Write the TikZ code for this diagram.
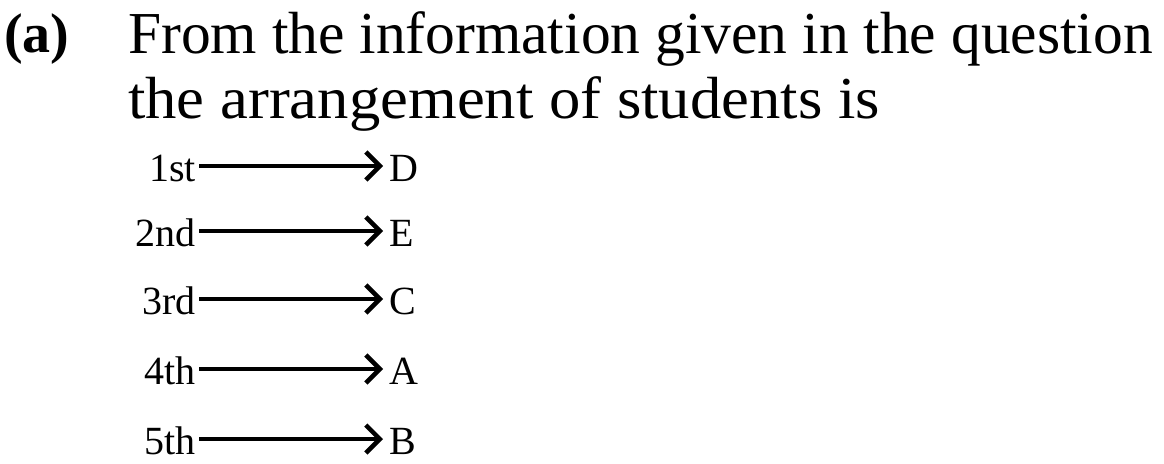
\documentclass[tikz,border=0pt]{standalone}
\usepackage{fontspec}
\setmainfont{Liberation Serif}
\usetikzlibrary{arrows.meta}
\begin{document}
\begin{tikzpicture}[x=1pt,y=-1pt,
  headtxt/.style={anchor=base west,inner sep=0pt,font=\fontsize{59.5}{60}\selectfont},
  lbl/.style={anchor=base east,inner sep=0pt,text height=30pt,text depth=0pt,font=\fontsize{40}{40}\selectfont},
  stu/.style={anchor=base west,inner sep=0pt,text height=30pt,text depth=0pt,font=\fontsize{40}{40}\selectfont},
  arr/.style={line width=4.5pt,-{Straight Barb[length=14pt,width=28pt]},shorten >=6pt,shorten <=3pt}]
\useasboundingbox (0,0) rectangle (1164,463);
\node[anchor=base west,inner sep=0pt,font=\fontsize{56}{56}\selectfont\bfseries] (a) at (4,52) {(a)};
\node[headtxt] (l1) at (128,53) {From the information given in the question};
\node[headtxt,xscale=1.053,transform shape] (l2) at (128,118) {the arrangement of students is};
\foreach \i/\o/\s/\y in {1/1st/D/181,2/2nd/E/246,3/3rd/C/314,4/4th/A/384,5/5th/B/454}{
  \node[lbl] (o\i) at (196,\y) {\o};
  \node[stu] (s\i) at (389,\y) {\s};
  \draw[arr] (o\i.east) -- (s\i.west);
}
\end{tikzpicture}
\end{document}
